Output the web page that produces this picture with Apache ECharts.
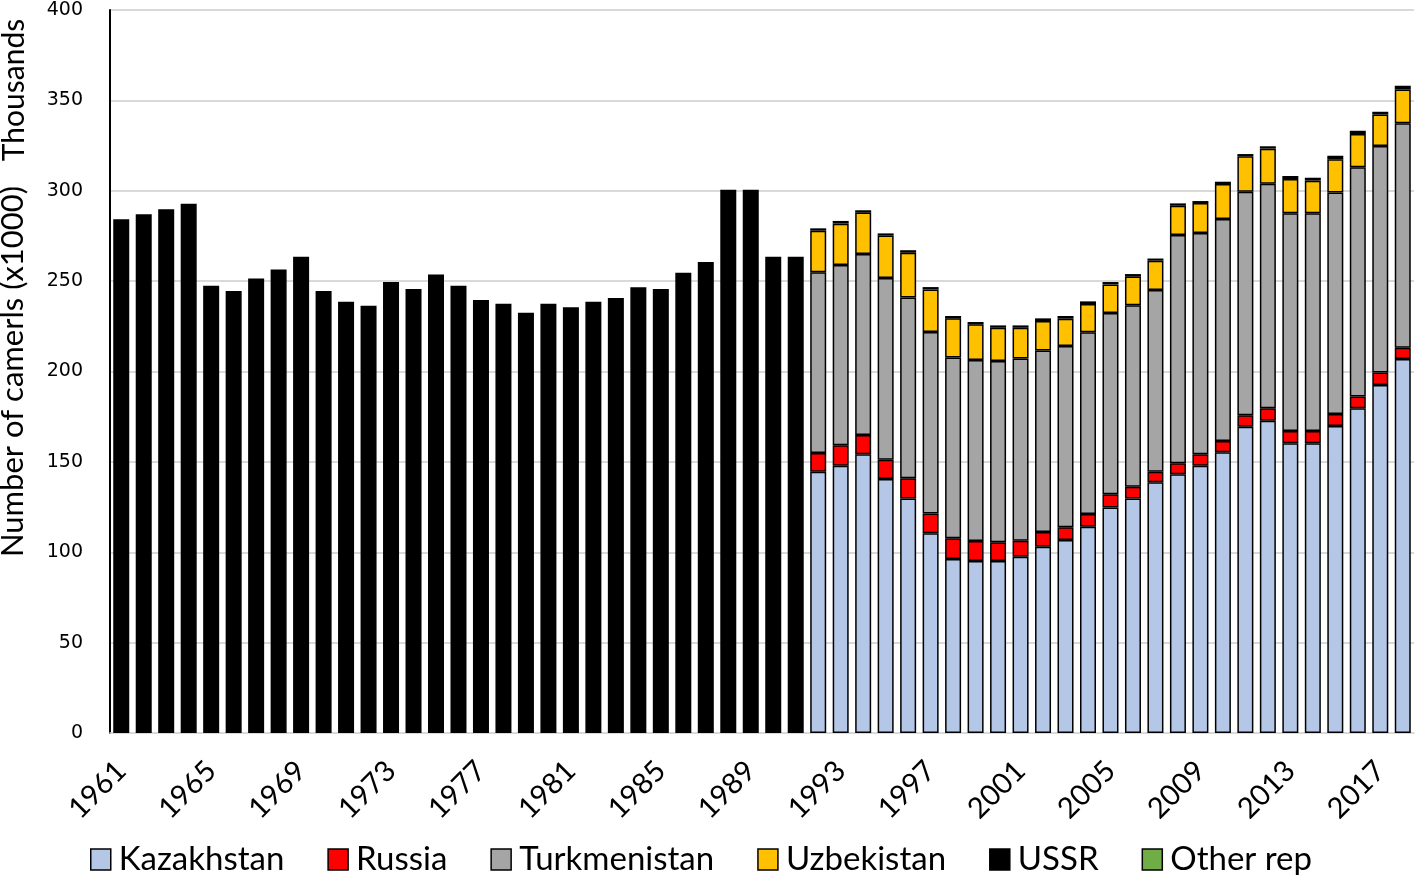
<!DOCTYPE html>
<html>
<head>
<meta charset="utf-8">
<script src="https://cdn.jsdelivr.net/npm/echarts@6/dist/echarts.min.js"></script>
<style>
html,body{margin:0;padding:0;background:#fff;}
#chart{width:1417px;height:875px;}
</style>
</head>
<body>
<div id="chart"></div>
<script>
const years = ['1961','1962','1963','1964','1965','1966','1967','1968','1969','1970',
  '1971','1972','1973','1974','1975','1976','1977','1978','1979','1980',
  '1981','1982','1983','1984','1985','1986','1987','1988','1989','1990',
  '1991','1992','1993','1994','1995','1996','1997','1998','1999','2000',
  '2001','2002','2003','2004','2005','2006','2007','2008','2009','2010',
  '2011','2012','2013','2014','2015','2016','2017','2018'];

// USSR 1961-1991
const ussr = [284.2,287.0,289.7,292.8,247.5,244.5,251.5,256.5,263.5,244.5,
  238.6,236.4,249.5,245.6,253.6,247.5,239.6,237.5,232.5,237.5,
  235.5,238.6,240.7,246.6,245.6,254.7,260.6,300.6,300.6,263.5,263.5];

// Republics 1992-2018
const kazakhstan = [144.6,147.9,154.2,140.5,129.8,110.5,96.3,95.2,95.2,97.5,103.1,106.8,114.1,124.8,129.8,138.7,143.1,147.9,155.3,169.5,172.8,160.3,160.3,169.8,179.6,192.5,206.9];
const russia = [10.3,11.3,10.7,10.7,11.1,11.0,11.4,11.0,10.3,8.9,8.1,7.0,7.0,7.3,6.5,5.9,6.1,6.3,6.2,6.3,6.8,6.8,6.8,6.7,6.5,6.9,6.3];
const turkmenistan = [100.0,99.7,100.1,100.5,100.1,100.4,100.1,100.2,100.3,100.8,100.4,100.3,100.6,100.2,100.3,100.5,126.3,122.4,122.9,123.7,124.3,120.4,120.4,122.6,126.9,125.4,124.1];
const uzbekistan = [23.0,22.9,22.9,23.5,24.7,23.5,21.6,19.7,18.4,17.0,16.3,15.1,15.6,15.9,15.9,16.2,16.2,16.6,19.3,19.6,19.4,19.0,18.1,18.3,18.4,17.4,18.7];
const otherRep = [1.3,1.5,1.3,1.2,1.4,1.3,1.3,1.3,1.3,1.3,1.5,1.5,1.5,1.3,1.4,1.2,1.3,1.1,1.3,1.2,1.3,1.7,1.6,2.0,1.8,1.5,2.1];

const yTicks = {min:0, max:400, interval:50};

const pad = new Array(ussr.length).fill(null);
const after = new Array(kazakhstan.length).fill(null);

const border = {borderColor:'#000', borderWidth:1.5};
function mk(name, data, color){
  return {name:name, type:'bar', stack:'t', data:data, barWidth:16,
    itemStyle:Object.assign({color:color}, border), emphasis:{disabled:true}};
}

const chart = echarts.init(document.getElementById('chart'));
chart.setOption({
  animation:false,
  grid:{left:110, right:3, top:10, bottom:142, outerBoundsMode:'none', containLabel:false},
  xAxis:{type:'category', data:years,
    axisLine:{show:true, lineStyle:{color:'#d9d9d9', width:1.5}},
    axisTick:{show:false},
    axisLabel:{interval:3, rotate:45, fontSize:29, color:'#000', fontFamily:'Lato', margin:33}
  },
  yAxis:{type:'value', min:yTicks.min, max:yTicks.max, interval:yTicks.interval,
    name:'Number of camerls (x1000)', nameLocation:'middle', nameGap:82, nameRotate:90,
    nameTextStyle:{fontSize:31, fontFamily:'Lato', color:'#000'},
    axisLine:{show:true, lineStyle:{color:'#000', width:2}},
    axisTick:{show:false},
    splitLine:{lineStyle:{color:'#d9d9d9', width:2}},
    axisLabel:{fontSize:19, fontFamily:'DejaVu Sans', color:'#000', margin:27}
  },
  legend:{left:90, top:843, padding:0, icon:'rect', itemWidth:20, itemHeight:21, itemGap:43,
    textStyle:{fontSize:33, fontFamily:'Lato', color:'#000', padding:[0,0,0,3]},
    itemStyle:{borderColor:'#000', borderWidth:1.5},
    data:['Kazakhstan','Russia','Turkmenistan','Uzbekistan','USSR',
      {name:'Other rep', itemStyle:{color:'#70ad47'}}]
  },
  graphic:[{type:'text', x:14, y:90, rotation:Math.PI/2,
    style:{text:'Thousands', fontSize:30, fontFamily:'Lato', fill:'#000', align:'center', verticalAlign:'middle'}}],
  series:[
    mk('USSR', ussr.concat(after), '#000'),
    mk('Kazakhstan', pad.concat(kazakhstan), '#b4c7e7'),
    mk('Russia', pad.concat(russia), '#ff0000'),
    mk('Turkmenistan', pad.concat(turkmenistan), '#a5a5a5'),
    mk('Uzbekistan', pad.concat(uzbekistan), '#ffc000'),
    mk('Other rep', pad.concat(otherRep), '#000')
  ]
});
</script>
</body>
</html>
